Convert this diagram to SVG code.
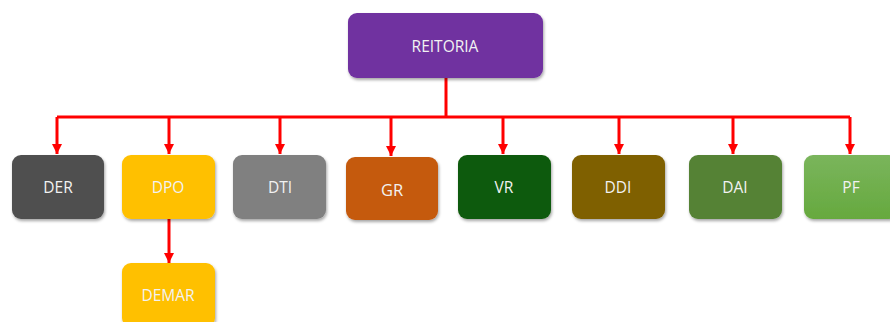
<svg xmlns="http://www.w3.org/2000/svg" width="890" height="322" viewBox="0 0 890 322">
  <style>
    .box { stroke: none; filter: url(#shadow); }
    .lbl { font-family: "Open Sans", "Liberation Sans", sans-serif; font-size: 15.5px; fill: #F2F2F2; text-anchor: middle; dominant-baseline: central; }
    .conn { stroke: #FF0000; stroke-width: 3; fill: none; }
    .arrow { stroke: #FF0000; stroke-width: 3; fill: none; marker-end: url(#ah); }
  </style>
  <defs>
    <filter id="shadow" x="-10%" y="-10%" width="125%" height="130%">
      <feDropShadow dx="1" dy="2" stdDeviation="1.5" flood-color="#000" flood-opacity="0.35"/>
    </filter>
    <marker id="ah" markerUnits="userSpaceOnUse" markerWidth="11" markerHeight="10" refX="10" refY="5" orient="auto">
      <path d="M0,0 L10,5 L0,10 Z" fill="#FF0000"/>
    </marker>
    <linearGradient id="pfgrad" x1="0" y1="0" x2="0" y2="1">
      <stop offset="0" stop-color="#7AB55C"/>
      <stop offset="1" stop-color="#66A93E"/>
    </linearGradient>
  </defs>
  <rect width="890" height="322" fill="#FFFFFF"/>

  <g id="connectors">
    <polyline class="conn" points="446,78 446,117"/>
    <polyline class="conn" points="57,117 850,117"/>
    <line class="arrow" x1="57" y1="117" x2="57" y2="154"/>
    <line class="arrow" x1="169" y1="117" x2="169" y2="154"/>
    <line class="arrow" x1="280" y1="117" x2="280" y2="154"/>
    <line class="arrow" x1="391" y1="117" x2="391" y2="156"/>
    <line class="arrow" x1="503" y1="117" x2="503" y2="154"/>
    <line class="arrow" x1="619" y1="117" x2="619" y2="154"/>
    <line class="arrow" x1="733" y1="117" x2="733" y2="154"/>
    <line class="arrow" x1="850" y1="117" x2="850" y2="154"/>
    <line class="arrow" x1="169" y1="219" x2="169" y2="263"/>
  </g>

  <g id="reitoria">
    <rect class="box" x="348" y="13" width="195" height="65" rx="9" fill="#7030A0"/>
    <text class="lbl" x="445" y="46">REITORIA</text>
  </g>
  <g id="der">
    <rect class="box" x="12" y="155" width="92" height="64" rx="9" fill="#505050"/>
    <text class="lbl" x="58" y="187">DER</text>
  </g>
  <g id="dpo">
    <rect class="box" x="122" y="155" width="93" height="64" rx="9" fill="#FFC000"/>
    <text class="lbl" x="168" y="187">DPO</text>
  </g>
  <g id="dti">
    <rect class="box" x="233" y="155" width="93" height="64" rx="9" fill="#808080"/>
    <text class="lbl" x="280" y="187">DTI</text>
  </g>
  <g id="gr">
    <rect class="box" x="346" y="157" width="92" height="63" rx="9" fill="#C55A11"/>
    <text class="lbl" x="392" y="189" style="font-size:16.5px">GR</text>
  </g>
  <g id="vr">
    <rect class="box" x="458" y="155" width="93" height="64" rx="9" fill="#0E5A0A"/>
    <text class="lbl" x="504" y="187">VR</text>
  </g>
  <g id="ddi">
    <rect class="box" x="572" y="155" width="93" height="64" rx="9" fill="#7F6000"/>
    <text class="lbl" x="618" y="187">DDI</text>
  </g>
  <g id="dai">
    <rect class="box" x="689" y="155" width="93" height="64" rx="9" fill="#548235"/>
    <text class="lbl" x="735" y="187">DAI</text>
  </g>
  <g id="pf">
    <rect class="box" x="804" y="155" width="94" height="64" rx="9" fill="url(#pfgrad)"/>
    <text class="lbl" x="851" y="187">PF</text>
  </g>
  <g id="demar">
    <rect class="box" x="122" y="263" width="93" height="64" rx="9" fill="#FFC000"/>
    <text class="lbl" x="168" y="295">DEMAR</text>
  </g>
</svg>
